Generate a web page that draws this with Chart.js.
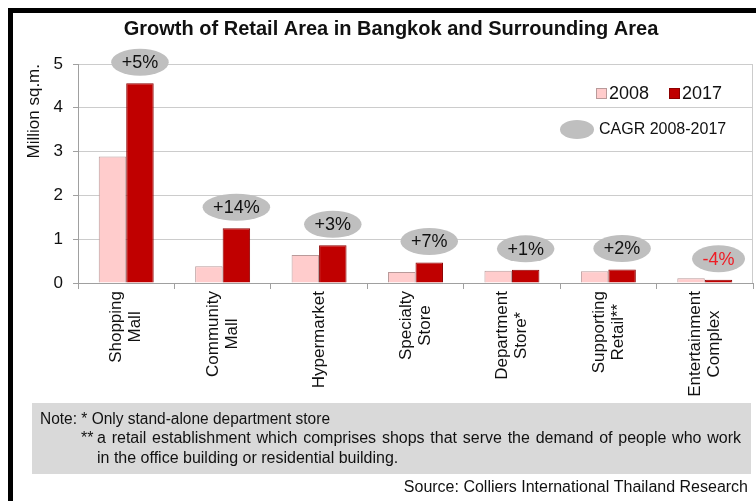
<!DOCTYPE html>
<html>
<head>
<meta charset="utf-8">
<script src="https://cdn.jsdelivr.net/npm/chart.js@4.4.0/dist/chart.umd.min.js"></script>
<style>
  html, body { margin: 0; padding: 0; background: #fff; }
  canvas { display: block; }
</style>
</head>
<body>
<canvas id="chart" width="756" height="501"></canvas>
<script>
// Retail area by format, million sq.m.
const categories = [
  ['Shopping', 'Mall'],
  ['Community', 'Mall'],
  ['Hypermarket'],
  ['Specialty', 'Store'],
  ['Department', 'Store*'],
  ['Supporting', 'Retail**'],
  ['Entertainment', 'Complex']
];
const area2008 = [2.89, 0.38, 0.64, 0.25, 0.28, 0.27, 0.11];
const area2017 = [4.56, 1.25, 0.86, 0.47, 0.30, 0.31, 0.075];
const cagrLabels = ['+5%', '+14%', '+3%', '+7%', '+1%', '+2%', '-4%'];
const seriesNames = ['2008', '2017'];
const yTickValues = [0, 1, 2, 3, 4, 5];

const titleText = 'Growth of Retail Area in Bangkok and Surrounding Area';
const yAxisTitle = 'Million sq.m.';
const cagrLegendText = 'CAGR 2008-2017';
const noteHead = 'Note: * Only stand-alone department store';
const noteStars = '**';
const noteBody = [
  'a retail establishment which comprises shops that serve the demand of people who work',
  'in the office building or residential building.'
];
const sourceText = 'Source: Colliers International Thailand Research';

const FONT = '"Liberation Sans", Arial, Helvetica, sans-serif';
const COLORS = {
  light: '#ffcccc', lightBorder: '#b99a9a',
  dark: '#c00000', darkBorder: '#8c0000',
  bubble: '#bfbfbf', negative: '#ee1c25',
  grid: '#cccccc', axis: '#a0a0a0', text: '#111111',
  noteBox: '#d9d9d9'
};

function ellipse(ctx, cx, cy, rx, ry) {
  ctx.beginPath();
  ctx.ellipse(cx, cy, rx, ry, 0, 0, Math.PI * 2);
  ctx.fill();
}

// spread the words of one line so it fills the given width
function fillJustified(ctx, text, x, y, width) {
  const words = text.split(' ');
  const used = words.reduce((s, w) => s + ctx.measureText(w).width, 0);
  const gap = (width - used) / (words.length - 1);
  let cx = x;
  words.forEach(w => {
    ctx.fillText(w, cx, y);
    cx += ctx.measureText(w).width + gap;
  });
}

const decorations = {
  id: 'decorations',
  beforeDraw(chart) {
    const ctx = chart.ctx;
    ctx.save();
    ctx.fillStyle = '#fff';
    ctx.fillRect(0, 0, chart.width, chart.height);

    // black frame along top and left
    ctx.fillStyle = '#000';
    ctx.fillRect(8, 8, chart.width - 8, 5);
    ctx.fillRect(8, 8, 5, chart.height - 8);

    // title
    ctx.fillStyle = COLORS.text;
    ctx.font = `bold 20px ${FONT}`;
    ctx.textAlign = 'center';
    ctx.textBaseline = 'middle';
    ctx.fillText(titleText, 391, 29);

    // footnote box
    ctx.fillStyle = COLORS.noteBox;
    ctx.fillRect(32, 403, 719, 71);
    ctx.fillStyle = COLORS.text;
    ctx.font = `16px ${FONT}`;
    ctx.textAlign = 'left';
    ctx.textBaseline = 'alphabetic';
    ctx.fillText(noteHead, 40, 424, 290);
    ctx.fillText(noteStars, 81, 443);
    fillJustified(ctx, noteBody[0], 97, 443, 644);
    ctx.fillText(noteBody[1], 97, 463);

    // source line
    ctx.textAlign = 'right';
    ctx.fillText(sourceText, 748, 492, 350);
    ctx.restore();
  },
  afterDraw(chart) {
    const ctx = chart.ctx;
    const area = chart.chartArea;
    const xScale = chart.scales.x;
    ctx.save();

    // right edge of the plot frame
    ctx.strokeStyle = COLORS.grid;
    ctx.lineWidth = 1;
    ctx.beginPath();
    ctx.moveTo(Math.round(area.right) - 0.5, area.top);
    ctx.lineTo(Math.round(area.right) - 0.5, area.bottom);
    ctx.stroke();

    // rotated category labels, lines centred on each other
    ctx.font = `17px ${FONT}`;
    ctx.fillStyle = COLORS.text;
    ctx.textAlign = 'center';
    ctx.textBaseline = 'middle';
    const lineGap = 19;
    const labelTop = xScale.top + 8;
    categories.forEach((lines, i) => {
      const cx = xScale.getPixelForTick(i);
      const w = Math.max(...lines.map(l => ctx.measureText(l).width));
      lines.forEach((line, j) => {
        const off = (j - (lines.length - 1) / 2) * lineGap;
        ctx.save();
        ctx.translate(cx + off, labelTop + w / 2);
        ctx.rotate(-Math.PI / 2);
        ctx.fillText(line, 0, 0);
        ctx.restore();
      });
    });

    // CAGR bubbles above the 2017 bars
    const meta = chart.getDatasetMeta(1);
    ctx.font = `18px ${FONT}`;
    meta.data.forEach((bar, i) => {
      const label = cagrLabels[i];
      const tw = ctx.measureText(label).width;
      const cx = bar.x;
      const cy = bar.y - 21;
      ctx.fillStyle = COLORS.bubble;
      ellipse(ctx, cx, cy, (tw + 21) / 2, 13.5);
      ctx.fillStyle = label.startsWith('-') ? COLORS.negative : COLORS.text;
      ctx.fillText(label, cx, cy + 1);
    });

    // legend
    const ds = chart.data.datasets;
    ctx.textAlign = 'left';
    ctx.textBaseline = 'middle';
    ctx.font = `18px ${FONT}`;
    let lx = 596;
    ds.forEach(d => {
      ctx.fillStyle = d.backgroundColor;
      ctx.fillRect(lx, 88, 11, 11);
      ctx.strokeStyle = d.borderColor;
      ctx.lineWidth = 1;
      ctx.strokeRect(lx + 0.5, 88.5, 10, 10);
      ctx.fillStyle = COLORS.text;
      ctx.fillText(d.label, lx + 13, 94);
      lx += 73;
    });
    ctx.fillStyle = COLORS.bubble;
    ellipse(ctx, 577, 129.5, 17, 9.5);
    ctx.fillStyle = COLORS.text;
    ctx.font = `16px ${FONT}`;
    ctx.fillText(cagrLegendText, 599, 130);

    ctx.restore();
  }
};

new Chart(document.getElementById('chart'), {
  type: 'bar',
  data: {
    labels: categories,
    datasets: [
      {
        label: seriesNames[0],
        data: area2008,
        backgroundColor: COLORS.light,
        borderColor: COLORS.lightBorder,
        borderWidth: 1
      },
      {
        label: seriesNames[1],
        data: area2017,
        backgroundColor: COLORS.dark,
        borderColor: COLORS.darkBorder,
        borderWidth: 1
      }
    ]
  },
  options: {
    responsive: false,
    animation: false,
    devicePixelRatio: 1,
    layout: { padding: { top: 64, right: 3, left: 0, bottom: 0 } },
    datasets: { bar: { categoryPercentage: 0.57, barPercentage: 1.0 } },
    plugins: {
      legend: { display: false },
      title: { display: false },
      tooltip: { enabled: false }
    },
    scales: {
      x: {
        grid: {
          offset: true,
          drawOnChartArea: false,
          tickLength: 6,
          tickColor: COLORS.axis
        },
        border: { color: COLORS.axis, width: 1 },
        ticks: { display: false },
        afterFit(scale) { scale.height = 218; }
      },
      y: {
        min: 0,
        max: 5,
        afterBuildTicks(scale) { scale.ticks = yTickValues.map(v => ({ value: v })); },
        grid: { color: COLORS.grid, tickLength: 5, tickColor: COLORS.axis },
        border: { color: COLORS.axis, width: 1 },
        ticks: {
          padding: 10,
          color: COLORS.text,
          font: { family: FONT, size: 17 }
        },
        title: {
          display: true,
          text: yAxisTitle,
          align: 'end',
          color: COLORS.text,
          font: { family: FONT, size: 17 },
          padding: { top: 24, bottom: 0 }
        },
        afterFit(scale) { scale.width = 78; }
      }
    }
  },
  plugins: [decorations]
});
</script>
</body>
</html>
